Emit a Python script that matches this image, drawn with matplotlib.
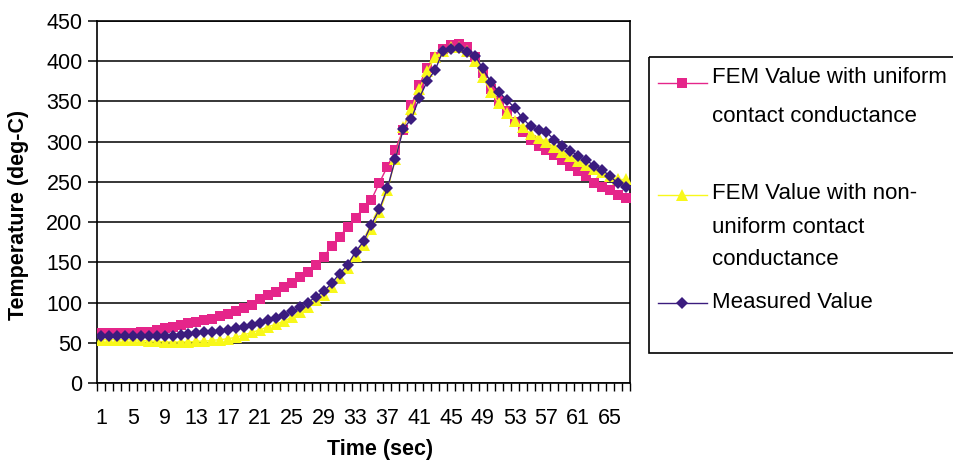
import matplotlib
matplotlib.use('Agg')
import matplotlib.pyplot as plt
from matplotlib.patches import Rectangle

plt.rcParams['font.family'] = ['Liberation Sans', 'DejaVu Sans']

# time categories (sec)
time_sec = list(range(1, 68))

# FEM with uniform contact conductance
fem_uniform = [62, 62, 62, 62, 62, 63, 64, 66, 68, 70,
               72, 74, 76, 78, 80, 83, 86, 89, 93, 97,
               104, 109, 113, 119, 124, 132, 138, 147, 157, 170,
               182, 194, 205, 218, 228, 249, 269, 290, 315, 345,
               370, 392, 405, 415, 420, 421, 418, 405, 385, 365,
               350, 338, 325, 312, 302, 295, 290, 283, 277, 270,
               263, 257, 248, 244, 240, 234, 230]

# FEM with non-uniform contact conductance
fem_nonuniform = [54, 54, 54, 54, 54, 53, 52, 52, 51, 51,
                  51, 51, 52, 52, 53, 54, 55, 57, 60, 63,
                  66, 70, 73, 77, 82, 88, 95, 103, 110, 119,
                  131, 143, 158, 172, 192, 212, 240, 278, 318, 340,
                  365, 388, 405, 413, 418, 418, 413, 400, 380, 362,
                  348, 336, 326, 318, 310, 305, 300, 293, 287, 282,
                  276, 271, 266, 262, 257, 253, 253]

# measured
measured = [59, 59, 59, 59, 59, 59, 59, 59, 59, 59,
            60, 61, 62, 63, 64, 65, 66, 68, 70, 72,
            75, 78, 81, 85, 89, 94, 100, 107, 114, 124,
            136, 147, 163, 176, 197, 216, 242, 278, 316, 328,
            354, 375, 389, 413, 415, 416, 411, 407, 391, 374,
            362, 352, 342, 329, 319, 315, 312, 302, 294, 289,
            282, 277, 270, 265, 257, 248, 244]

series_names = ['FEM Value with uniform\ncontact conductance',
                'FEM Value with non-\nuniform contact\nconductance',
                'Measured Value']
colors = ['#E5258A', '#F8F81A', '#3B1C7E']
markers = ['s', '^', 'D']
msizes = [6.8, 8.0, 6.3]

W, H = 954, 465
fig = plt.figure(figsize=(W / 100, H / 100), dpi=100)
ax = fig.add_axes([97 / W, (H - 383) / H, 533 / W, 362 / H])

for vals, c, m, ms in zip([fem_uniform, fem_nonuniform, measured], colors, markers, msizes):
    ax.plot(time_sec, vals, color=c, marker=m, markersize=ms, linewidth=1,
            markeredgewidth=0, zorder=3)

ax.set_xlim(0.5, 67.5)
ax.set_ylim(0, 450)
ax.set_yticks(range(0, 451, 50))
ax.grid(axis='y', color='black', linewidth=1.1)
ax.set_axisbelow(True)

ax.set_xticks(time_sec[::4])
ax.set_xticks([t - 0.5 for t in time_sec] + [67.5], minor=True)
ax.tick_params(axis='x', which='major', length=0, pad=18, labelsize=15.5)
ax.tick_params(axis='x', which='minor', length=5.5, width=1, direction='out')
ax.tick_params(axis='y', length=6.5, width=1.1, pad=4, labelsize=15.5)

for s in ax.spines.values():
    s.set_linewidth(1.2)
    s.set_color('black')

ax.set_xlabel('Time (sec)', fontsize=15.5, fontweight='bold')
ax.set_ylabel('Temperature (deg-C)', fontsize=15.5, fontweight='bold')
ax.xaxis.set_label_coords(0.531, -0.155)
ax.yaxis.set_label_coords(-0.128, 0.464)

# legend drawn in pixel space
lax = fig.add_axes([0, 0, 1, 1], facecolor='none')
lax.set_xlim(0, W)
lax.set_ylim(H, 0)
lax.axis('off')
lax.add_patch(Rectangle((649, 57), 320, 296, fill=False, edgecolor='black',
                        linewidth=1.2, clip_on=False))
marker_y = [83, 195, 303]
text_base = [[83, 122], [199, 233, 265], [308]]
for name, c, m, ms, my, bases in zip(series_names, colors, markers, msizes, marker_y, text_base):
    lax.plot([658, 707], [my, my], color=c, linewidth=1)
    lax.plot([682], [my], color=c, marker=m, markersize=ms, markeredgewidth=0)
    for line, yb in zip(name.split('\n'), bases):
        lax.text(712, yb, line, fontsize=16, va='baseline', ha='left')

fig.savefig('out.png', dpi=100)
